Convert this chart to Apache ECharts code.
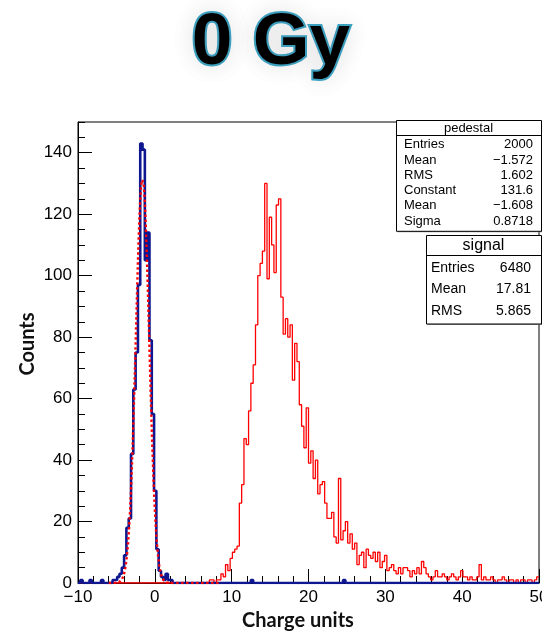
<!DOCTYPE html>
<html>
<head>
<meta charset="utf-8">
<script src="https://cdn.jsdelivr.net/npm/echarts@6/dist/echarts.min.js"></script>
<style>
  html, body { margin: 0; padding: 0; background: #fff; }
  #chart { width: 542px; height: 636px; }
</style>
</head>
<body>
<div id="chart"></div>
<script>
// Histogram binning shared by both spectra
const xMin = -10;
const xMax = 50;
const binWidth = 0.3;
const yMax = 150;

// Pedestal spectrum (0 Gy), 200 bins from -10 to 50
const pedestalCounts = [
  0, 1, 0, 0, 0, 1, 0, 0, 0, 0,
  1, 0, 0, 0, 0, 1, 1, 2, 3, 5,
  9, 18, 21, 42, 63, 75, 97, 143, 141, 105,
  114, 79, 55, 30, 11, 4, 2, 1, 3, 1,
  1, 0, 0, 0, 0, 0, 0, 0, 0, 0,
  0, 0, 0, 0, 0, 0, 0, 0, 0, 0,
  0, 0, 0, 0, 0, 0, 0, 0, 0, 0,
  0, 0, 0, 0, 0, 1, 0, 0, 0, 0,
  0, 0, 0, 0, 0, 0, 0, 0, 0, 0,
  0, 0, 0, 0, 0, 0, 0, 0, 0, 0,
  0, 0, 0, 0, 0, 0, 0, 0, 0, 0,
  0, 0, 0, 0, 0, 1, 0, 0, 0, 0,
  0, 0, 0, 0, 0, 0, 0, 0, 0, 0,
  0, 0, 0, 0, 0, 0, 0, 0, 0, 0,
  0, 0, 0, 0, 0, 0, 0, 0, 0, 0,
  0, 0, 0, 0, 0, 0, 0, 0, 0, 0,
  0, 0, 0, 0, 0, 0, 0, 0, 0, 0,
  0, 0, 0, 0, 0, 0, 0, 0, 0, 0,
  0, 0, 0, 0, 0, 0, 0, 0, 0, 0,
  0, 0, 0, 0, 0, 0, 0, 0, 0, 0
];

// Signal spectrum, same binning
const signalCounts = [
  0, 0, 0, 0, 0, 0, 0, 0, 0, 0,
  0, 0, 0, 0, 0, 0, 0, 0, 0, 0,
  0, 0, 0, 0, 0, 0, 0, 0, 0, 0,
  0, 0, 0, 0, 0, 0, 0, 0, 0, 0,
  0, 0, 0, 0, 0, 0, 0, 0, 0, 0,
  0, 0, 0, 0, 0, 0, 0, 1, 1, 0,
  1, 1, 3, 2, 6, 4, 8, 10, 11, 12,
  26, 32, 47, 45, 56, 65, 71, 84, 100, 104,
  108, 130, 99, 119, 110, 101, 123, 125, 93, 81,
  86, 80, 84, 66, 78, 72, 58, 51, 44, 57,
  39, 43, 34, 40, 29, 32, 33, 26, 21, 21,
  23, 15, 13, 34, 14, 17, 20, 13, 16, 11,
  13, 6, 9, 10, 5, 11, 9, 8, 10, 7,
  10, 5, 7, 9, 4, 5, 6, 4, 3, 5,
  3, 5, 5, 4, 2, 4, 3, 5, 3, 7,
  5, 3, 2, 1, 2, 4, 2, 2, 3, 2,
  1, 2, 3, 2, 1, 2, 4, 2, 2, 1,
  2, 1, 1, 2, 6, 1, 2, 1, 1, 2,
  1, 0, 1, 1, 2, 1, 0, 1, 1, 0,
  1, 0, 1, 1, 0, 1, 1, 0, 1, 2
];

// Statistics boxes
const pedestalStatNames = ['Entries', 'Mean', 'RMS', 'Constant', 'Mean', 'Sigma'];
const pedestalStatValues = [2000, -1.572, 1.602, 131.6, -1.608, 0.8718];
const signalStatNames = ['Entries', 'Mean', 'RMS'];
const signalStatValues = [6480, 17.81, 5.865];

// Gaussian fit of the pedestal: range over which it is drawn
const fitRange = [-6, 8.4];

const fmt = v => String(v).replace('-', '\u2212');

function histPoints(counts) {
  const pts = counts.map((c, k) => [+(xMin + k * binWidth).toFixed(4), c]);
  pts.push([xMax, counts[counts.length - 1]]);
  return pts;
}

// Fitted Gaussian, evaluated from the Constant / Mean / Sigma shown in the pedestal box
function fitPoints() {
  const [amp, mu, sigma] = pedestalStatValues.slice(3, 6);
  const pts = [];
  const n = 300;
  for (let i = 0; i <= n; i++) {
    const x = fitRange[0] + (fitRange[1] - fitRange[0]) * i / n;
    pts.push([x, amp * Math.exp(-0.5 * ((x - mu) / sigma) ** 2)]);
  }
  return pts;
}

const FONT = '"Liberation Sans", Arial, Helvetica, sans-serif';

function statBox(x0, y0, x1, headerH, rowH, title, names, values, fontSize, titleSize, padL, padR) {
  const rows = names.length;
  const h = headerH + rows * rowH + 4;
  const els = [
    { type: 'rect', shape: { x: x0 + 1.5, y: y0 + 1.5, width: x1 - x0, height: h },
      style: { fill: '#999', stroke: null }, z: 100 },
    { type: 'rect', shape: { x: x0 + 0.5, y: y0 + 0.5, width: x1 - x0, height: h },
      style: { fill: '#fff', stroke: '#000', lineWidth: 1 }, z: 101 },
    { type: 'line', shape: { x1: x0 + 0.5, y1: y0 + headerH + 0.5, x2: x1 + 0.5, y2: y0 + headerH + 0.5 },
      style: { stroke: '#000', lineWidth: 1 }, z: 102 },
    { type: 'text', z: 103, style: {
        text: title, x: (x0 + x1) / 2, y: y0 + headerH / 2 + 1, align: 'center', verticalAlign: 'middle',
        font: titleSize + 'px ' + FONT, fill: '#000' } }
  ];
  names.forEach((nm, i) => {
    const yc = y0 + headerH + rowH * (i + 0.5) + 2;
    els.push({ type: 'text', z: 103, style: {
      text: nm, x: x0 + padL, y: yc, align: 'left', verticalAlign: 'middle',
      font: fontSize + 'px ' + FONT, fill: '#000' } });
    els.push({ type: 'text', z: 103, style: {
      text: fmt(values[i]), x: x1 - padR, y: yc, align: 'right', verticalAlign: 'middle',
      font: fontSize + 'px ' + FONT, fill: '#000' } });
  });
  return els;
}

const chart = echarts.init(document.getElementById('chart'), null, { renderer: 'canvas' });

const tickStyle = { color: '#000', width: 1 };
const labelStyle = { color: '#000', fontSize: 17, fontFamily: FONT, margin: 6 };

chart.setOption({
  animation: false,
  backgroundColor: '#fff',
  grid: { left: 78, top: 122, width: 461, height: 461, show: true, borderColor: '#000', borderWidth: 1,
          containLabel: false, outerBoundsMode: 'none' },
  xAxis: [{
    type: 'value', min: xMin, max: xMax, interval: 10,
    axisLine: { show: true, onZero: false, lineStyle: tickStyle },
    axisTick: { show: true, inside: true, length: 14, lineStyle: tickStyle },
    minorTick: { show: true, splitNumber: 5, length: 7, lineStyle: tickStyle },
    splitLine: { show: false },
    axisLabel: Object.assign({}, labelStyle, { formatter: v => fmt(v) })
  }],
  yAxis: [{
    type: 'value', min: 0, max: yMax, interval: 20,
    axisLine: { show: true, onZero: false, lineStyle: tickStyle },
    axisTick: { show: true, inside: true, length: 14, lineStyle: tickStyle },
    splitLine: { show: false },
    axisLabel: Object.assign({}, labelStyle, { showMaxLabel: false })
  }, {
    type: 'value', min: 0, max: yMax, interval: 5, position: 'left', offset: 0,
    axisLine: { show: false, onZero: false },
    axisTick: { show: true, inside: true, length: 7, lineStyle: tickStyle },
    splitLine: { show: false },
    axisLabel: { show: false }
  }],
  series: [{
    name: 'signal', type: 'line', step: 'end', data: histPoints(signalCounts),
    symbol: 'none', clip: true, z: 2,
    lineStyle: { color: '#ff0000', width: 1.3 }
  }, {
    name: 'pedestal', type: 'line', step: 'end', data: histPoints(pedestalCounts),
    symbol: 'none', clip: true, z: 3,
    lineStyle: { color: '#0e1690', width: 2.6 }
  }, {
    name: 'gaus', type: 'line', data: fitPoints(),
    symbol: 'none', clip: true, z: 4,
    lineStyle: { color: '#ff0000', width: 2.4, type: [2.4, 2.6] }
  }],
  graphic: [
    { type: 'text', z: 110, style: {
        text: '0 Gy', x: 271, y: 44, align: 'center', verticalAlign: 'middle',
        font: 'bold 73px ' + FONT, fill: '#000', stroke: '#3fa3c3', lineWidth: 4, strokeFirst: true,
        textShadowBlur: 24, textShadowColor: 'rgba(0,0,0,0.10)' } },
    { type: 'text', z: 110, x: 28, y: 344, rotation: Math.PI / 2, style: {
        text: 'Counts', x: 0, y: 0, align: 'center', verticalAlign: 'middle',
        font: 'bold 20px Lato, "Open Sans", sans-serif', fill: '#111' } },
    { type: 'text', z: 110, style: {
        text: 'Charge units', x: 298, y: 621, align: 'center', verticalAlign: 'middle',
        font: 'bold 20px Lato, "Open Sans", sans-serif', fill: '#111' } },
    ...statBox(396, 120, 541, 15, 15.3, 'pedestal', pedestalStatNames, pedestalStatValues, 13, 13, 8, 8),
    ...statBox(426, 235, 541, 20, 21.5, 'signal', signalStatNames, signalStatValues, 14, 16, 5, 10)
  ]
});
</script>
</body>
</html>
